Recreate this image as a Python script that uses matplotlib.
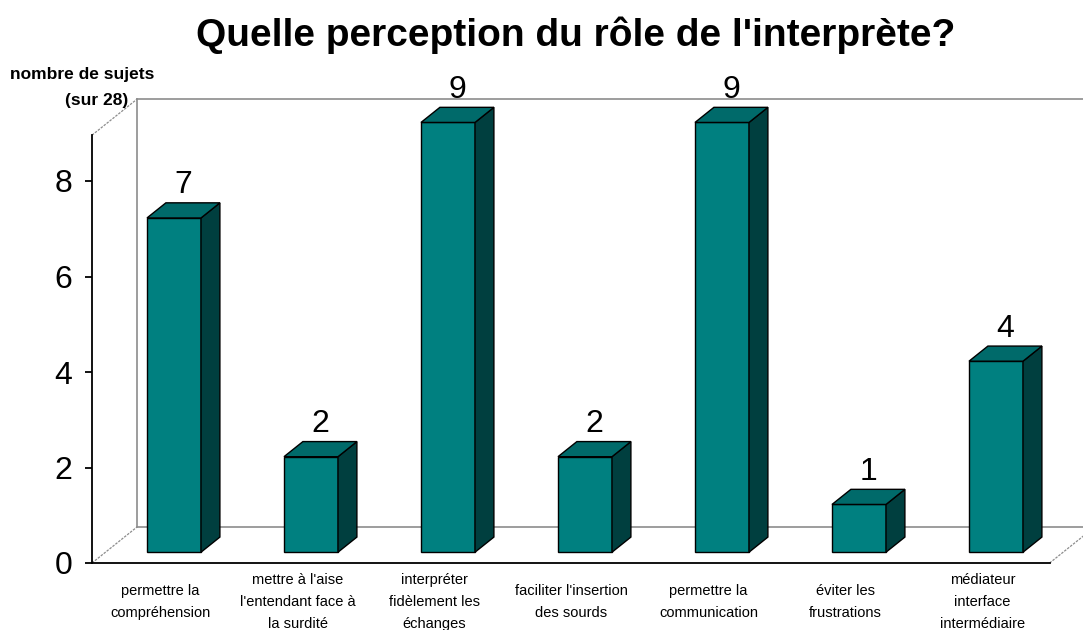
import numpy as np
import matplotlib.pyplot as plt
from matplotlib.patches import Polygon

plt.rcParams['font.family'] = ['Liberation Sans', 'DejaVu Sans']

# data
categories = [
    "permettre la\ncompréhension",
    "mettre à l'aise\nl'entendant face à\nla surdité",
    "interpréter\nfidèlement les\néchanges",
    "faciliter l'insertion\ndes sourds",
    "permettre la\ncommunication",
    "éviter les\nfrustrations",
    "médiateur\ninterface\nintermédiaire",
]
counts = [7, 2, 9, 2, 9, 1, 4]
yticks = [0, 2, 4, 6, 8]

title = "Quelle perception du rôle de l'interprète?"

# colours
face_col = "#008080"
top_col = "#006a6a"
side_col = "#003f3f"
grid_col = "#8c8c8c"

# fake 3d geometry (data units: 1 category / 1 count)
W, H = 1083, 630
px_x, px_y = 137.0, 47.75          # pixels per category / per unit
x0_px, y0_px = 160.5, 563.0        # pixel position of category 0, value 0 (front plane)
depth = np.array([45 / px_x, 36 / px_y])   # full floor depth
f0, fb = 0.30, 0.42                 # bar front position / bar depth as share of full depth
bar_w = 54 / px_x
x_left, x_right, wall_top = -0.5, 6.49, 8.96

fig = plt.figure(figsize=(W / 100, H / 100), dpi=100)
ax = fig.add_axes([0, 0, 1, 1])
ax.set_xlim(-x0_px / px_x, (W - x0_px) / px_x)
ax.set_ylim((y0_px - H) / px_y, y0_px / px_y)
ax.patch.set_visible(False)

# walls and floor
dx, dy = depth
ax.plot([x_left, x_left + dx], [0, dy], color=grid_col, lw=0.9, ls=(0, (2, 1)))
ax.plot([x_right, x_right + dx], [0, dy], color=grid_col, lw=0.9, ls=(0, (2, 1)))
ax.plot([x_left + dx, x_right + dx], [dy, dy], color=grid_col, lw=1.2)
ax.plot([x_left + dx, x_left + dx], [dy, wall_top + dy], color=grid_col, lw=1.2)
ax.plot([x_left + dx, x_right + dx], [wall_top + dy, wall_top + dy], color=grid_col, lw=1.2)
ax.plot([x_left, x_left + dx], [wall_top, wall_top + dy], color=grid_col, lw=0.9, ls=(0, (2, 1)))

# axes lines through spines
for s in ["top", "right"]:
    ax.spines[s].set_visible(False)
ax.spines["left"].set_position(("data", x_left))
ax.spines["left"].set_bounds(0, wall_top)
ax.spines["bottom"].set_position(("data", 0))
ax.spines["bottom"].set_bounds(x_left, x_right)
for s in ["left", "bottom"]:
    ax.spines[s].set_linewidth(1.3)
ax.set_yticks(yticks)
ax.set_yticklabels([str(t) for t in yticks], fontsize=23)
ax.tick_params(axis="y", length=5, width=1.3, pad=9)
ax.set_xticks([])

# bars
x = np.arange(len(counts))
xf = x + f0 * dx
base = f0 * dy
ax.bar(xf, counts, width=bar_w, bottom=base, color=face_col, edgecolor="black", linewidth=1, zorder=3)
for xi, v in zip(xf, counts):
    xl, xr = xi - bar_w / 2, xi + bar_w / 2
    top = base + v
    ox, oy = fb * dx, fb * dy
    side = Polygon([(xr, base), (xr, top), (xr + ox, top + oy), (xr + ox, base + oy)],
                   closed=True, facecolor=side_col, edgecolor="black", lw=1, zorder=3)
    lid = Polygon([(xl, top), (xr, top), (xr + ox, top + oy), (xl + ox, top + oy)],
                  closed=True, facecolor=top_col, edgecolor="black", lw=1, zorder=3)
    ax.add_patch(side)
    ax.add_patch(lid)
    ax.text(xi + ox / 2, top + oy + 0.2, str(v), ha="center", va="baseline", fontsize=23)

# category labels
for xi, lab in zip(x, categories):
    ax.text(xi, -(602 - y0_px) / px_y, lab, ha="center", va="center", fontsize=10.5,
            linespacing=1.75)

fig.text(576 / W, 1 - 35 / H, title, ha="center", va="center", fontsize=28, fontweight="bold")
fig.text(10 / W, 1 - 75 / H, "nombre de sujets", ha="left", va="center", fontsize=12.5, fontweight="bold")
fig.text(128 / W, 1 - 100 / H, "(sur 28)", ha="right", va="center", fontsize=12.5, fontweight="bold")

fig.savefig("out.png", dpi=100)
